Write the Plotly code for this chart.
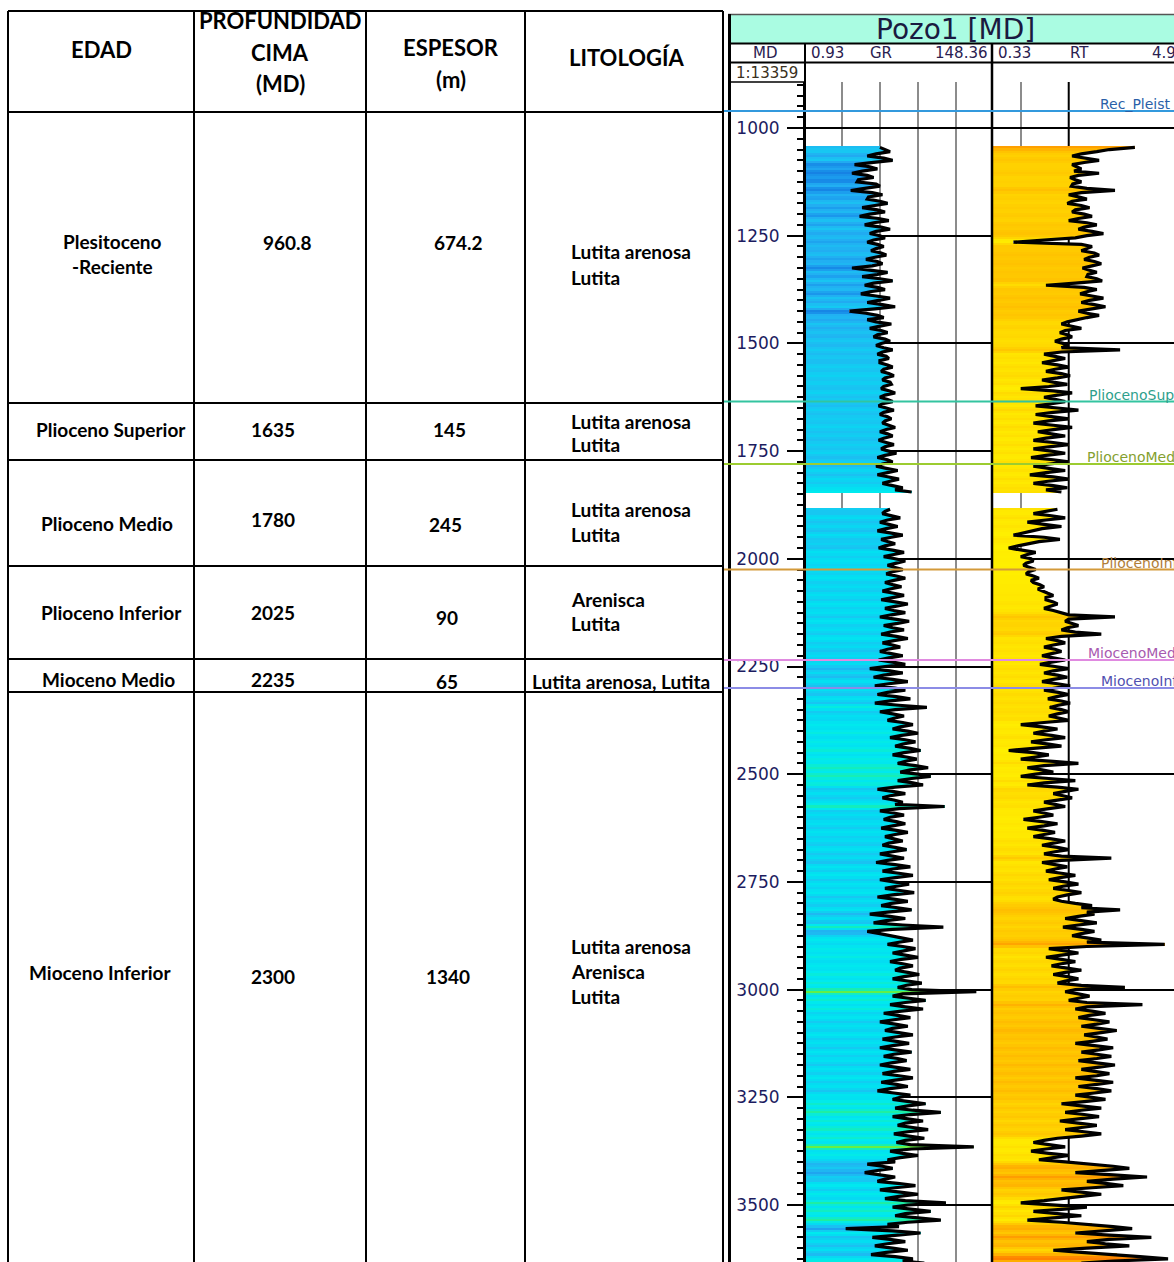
import numpy as np
import plotly.graph_objects as go

W, H = 1174, 1262

# ---------------- formation table ----------------
HEADERS = [["EDAD"], ["PROFUNDIDAD", "CIMA", "(MD)"], ["ESPESOR", "(m)"], ["LITOLOGÍA"]]
EDAD = [["Plesitoceno", "-Reciente"], ["Plioceno Superior"], ["Plioceno Medio"],
        ["Plioceno Inferior"], ["Mioceno Medio"], ["Mioceno Inferior"]]
CIMA_MD = [960.8, 1635, 1780, 2025, 2235, 2300]
ESPESOR_M = [674.2, 145, 245, 90, 65, 1340]
LITOLOGIA = [["Lutita arenosa", "Lutita"], ["Lutita arenosa", "Lutita"],
             ["Lutita arenosa", "Lutita"], ["Arenisca", "Lutita"],
             ["Lutita arenosa, Lutita"], ["Lutita arenosa", "Arenisca", "Lutita"]]
TOP_TAGS = ["Rec_Pleist", "PliocenoSup", "PliocenoMed", "PliocenoInf", "MiocenoMed", "MiocenoInf"]
TOP_COLORS = ["#3399dd", "#33c4a0", "#9ccc30", "#d49a3a", "#e08ae0", "#8c8ce6"]
TAG_COLORS = ["#2a5fa8", "#2f9f8c", "#84a030", "#b07e3a", "#a85ab0", "#5050b0"]

# ---------------- well log ----------------
WELL = "Pozo1 [MD]"
SCALE_LABEL = "1:13359"
GR_MIN, GR_MAX = 0.93, 148.36
RT_MIN, RT_MAX = 0.33, 4.92
STEP = 5             # sample interval (m)
RUN_A_TOP = 1045     # first sample of upper run
RUN_B_TOP = 1885     # first sample of lower run

GR_A = [
    60, 64, 68, 57, 50, 63, 70, 55, 40, 52,      # 1045
    58, 46, 38, 50, 55, 43, 42, 57, 60, 48,      # 1095
    37, 54, 62, 51, 50, 60, 66, 56, 46, 58,      # 1145
    64, 52, 44, 59, 67, 55, 48, 61, 68, 57,      # 1195
    52, 60, 64, 55, 50, 58, 63, 57, 53, 61,      # 1245
    65, 56, 49, 58, 62, 54, 38, 52, 66, 58,      # 1295
    46, 60, 70, 55, 48, 58, 64, 52, 45, 57,      # 1345
    68, 59, 50, 62, 72, 56, 36, 49, 58, 63,      # 1395
    50, 57, 69, 60, 52, 61, 66, 58, 55, 64,      # 1445
    68, 61, 57, 63, 70, 62, 58, 65, 67, 60,      # 1495
    60, 66, 70, 63, 61, 67, 71, 64, 62, 68,      # 1545
    69, 63, 61, 67, 72, 64, 60, 66, 70, 62,      # 1595
    59, 65, 71, 63, 60, 66, 69, 64, 62, 67,      # 1645
    72, 65, 60, 66, 70, 63, 59, 65, 71, 64,      # 1695
    61, 67, 73, 64, 58, 66, 70, 62, 57, 65,      # 1745
    74, 66, 58, 67, 75, 68, 62, 70, 78, 72,      # 1795
    85,                                          # 1845
]
GR_B = [
    68, 64, 62, 70, 76, 66, 60, 67, 74, 65,      # 1885
    58, 68, 78, 69, 61, 66, 72, 64, 59, 70,      # 1935
    79, 71, 63, 72, 80, 73, 66, 72, 78, 70,      # 1985
    65, 73, 80, 71, 64, 70, 77, 68, 62, 71,      # 2035
    79, 70, 61, 72, 82, 73, 64, 71, 80, 69,      # 2085
    60, 72, 83, 74, 63, 70, 79, 68, 61, 73,      # 2135
    82, 71, 62, 70, 76, 66, 60, 69, 78, 67,      # 2185
    59, 70, 80, 64, 52, 68, 78, 63, 55, 70,      # 2235
    82, 67, 56, 72, 80, 66, 58, 73, 84, 68,      # 2285
    56, 75, 97, 72, 60, 70, 79, 71, 66, 78,      # 2335
    86, 76, 70, 82, 90, 77, 68, 80, 88, 78,      # 2385
    72, 84, 92, 79, 70, 81, 89, 80, 74, 88,      # 2435
    98, 84, 76, 90, 100, 85, 74, 86, 94, 72,     # 2485
    58, 70, 80, 68, 62, 71, 78, 72, 111, 75,     # 2535
    60, 71, 79, 68, 63, 73, 80, 70, 61, 72,      # 2585
    82, 72, 64, 71, 78, 67, 62, 72, 81, 70,      # 2635
    60, 70, 79, 66, 57, 72, 84, 70, 62, 75,      # 2685
    86, 72, 60, 71, 83, 73, 64, 76, 87, 70,      # 2735
    58, 71, 82, 69, 61, 74, 85, 66, 52, 68,      # 2785
    80, 65, 55, 78, 110, 70, 50, 60, 68, 77,     # 2835
    86, 75, 66, 78, 88, 79, 70, 80, 90, 77,      # 2885
    68, 78, 86, 76, 72, 82, 91, 79, 70, 82,      # 2935
    93, 81, 74, 85, 136, 78, 70, 83, 96, 80,     # 2985
    68, 80, 94, 77, 63, 74, 84, 71, 60, 72,      # 3035
    82, 70, 64, 75, 86, 72, 62, 73, 83, 70,      # 3085
    60, 72, 85, 71, 63, 74, 81, 69, 60, 72,      # 3135
    84, 71, 62, 75, 86, 72, 61, 73, 82, 68,      # 3185
    58, 71, 84, 76, 70, 83, 96, 82, 72, 86,      # 3235
    108, 84, 70, 82, 94, 80, 74, 86, 98, 82,     # 3285
    71, 83, 95, 80, 73, 84, 134, 85, 68, 78,     # 3335
    90, 76, 66, 72, 50, 62, 70, 58, 48, 60,      # 3385
    72, 64, 58, 74, 88, 72, 60, 76, 90, 75,      # 3435
    64, 80, 112, 82, 70, 86, 100, 80, 72, 90,    # 3485
    108, 82, 66, 75, 33, 70, 92, 74, 54, 68,     # 3535
    80, 66, 56, 70, 82, 65, 53, 72, 86, 78,      # 3585
    95,                                          # 3635
]
RT_A = [
    2.6, 1.8, 1.5, 1.2, 1.05, 1.3, 1.55, 1.25, 1.05, 1.12,     # 1045
    1.2, 1.08, 1.55, 1.15, 1.02, 1.1, 1.2, 1.06, 1.04, 1.3,    # 1095
    1.95, 1.2, 1.0, 1.15, 1.3, 1.05, 0.98, 1.2, 1.35, 1.1,     # 1145
    1.05, 1.25, 1.4, 1.15, 1.0, 1.3, 1.5, 1.25, 1.15, 1.4,     # 1195
    1.65, 1.3, 1.1, 0.7, 0.45, 1.2, 1.4, 1.3, 1.2, 1.45,       # 1245
    1.55, 1.35, 1.25, 1.45, 1.6, 1.4, 1.22, 1.35, 1.5, 1.32,   # 1295
    1.3, 1.5, 1.62, 1.1, 0.72, 1.25, 1.5, 1.3, 1.18, 1.4,      # 1345
    1.65, 1.35, 1.2, 1.45, 1.7, 1.4, 1.15, 1.3, 1.55, 1.3,     # 1395
    1.1, 0.98, 0.9, 1.05, 1.2, 0.95, 0.88, 0.98, 1.05, 0.9,    # 1445
    0.82, 0.92, 1.0, 0.9, 2.1, 0.9, 0.7, 0.82, 0.95, 0.8,      # 1495
    0.68, 0.85, 1.0, 0.82, 0.72, 0.9, 1.02, 0.85, 0.68, 0.8,   # 1545
    0.98, 0.75, 0.5, 0.8, 1.05, 0.85, 0.7, 0.82, 0.95, 0.78,   # 1595
    0.62, 0.85, 1.15, 0.8, 0.62, 0.78, 1.0, 0.75, 0.6, 0.8,    # 1645
    1.05, 0.8, 0.64, 0.78, 0.95, 0.72, 0.6, 0.8, 1.0, 0.75,    # 1695
    0.6, 0.78, 0.95, 0.72, 0.58, 0.8, 1.0, 0.76, 0.6, 0.75,    # 1745
    0.95, 0.72, 0.57, 0.8, 1.0, 0.74, 0.6, 0.8, 0.98, 0.72,    # 1795
    0.9,                                                       # 1845
]
RT_B = [
    0.85, 0.7, 0.6, 0.78, 0.95, 0.72, 0.55, 0.7, 0.9, 0.68,    # 1885
    0.6, 0.52, 0.45, 0.7, 0.88, 0.65, 0.55, 0.48, 0.42, 0.5,   # 1935
    0.62, 0.55, 0.5, 0.58, 0.6, 0.54, 0.52, 0.57, 0.62, 0.56,  # 1985
    0.54, 0.6, 0.65, 0.58, 0.6, 0.66, 0.7, 0.64, 0.68, 0.74,   # 2035
    0.8, 0.72, 0.72, 0.8, 0.85, 0.76, 0.7, 0.8, 0.88, 1.0,     # 2085
    1.95, 1.0, 0.95, 1.05, 1.15, 0.98, 0.9, 1.1, 1.6, 0.9,     # 2135
    0.72, 0.85, 0.95, 0.8, 0.7, 0.82, 0.9, 0.78, 0.68, 0.8,    # 2185
    0.95, 0.78, 0.66, 0.82, 1.0, 0.8, 0.7, 0.85, 0.98, 0.8,    # 2235
    0.68, 0.85, 1.02, 0.82, 0.7, 0.86, 1.0, 0.84, 0.74, 0.9,   # 2285
    1.02, 0.86, 0.76, 0.9, 1.0, 0.85, 0.75, 0.88, 1.0, 0.7,    # 2335
    0.5, 0.68, 0.85, 0.7, 0.6, 0.78, 0.95, 0.72, 0.58, 0.75,   # 2385
    0.9, 0.6, 0.42, 0.6, 0.75, 0.62, 0.5, 0.8, 1.15, 0.7,      # 2435
    0.55, 0.68, 0.8, 0.62, 0.5, 0.75, 1.1, 0.7, 0.55, 0.85,    # 2485
    1.15, 0.95, 0.8, 0.92, 1.05, 0.85, 0.7, 0.82, 0.95, 0.75,  # 2535
    0.6, 0.7, 0.8, 0.65, 0.52, 0.68, 0.85, 0.7, 0.55, 0.68,    # 2585
    0.82, 0.7, 0.6, 0.78, 0.95, 0.8, 0.68, 0.85, 1.0, 0.82,    # 2635
    0.7, 0.9, 1.85, 0.9, 0.68, 0.82, 0.98, 0.82, 0.72, 0.9,    # 2685
    1.1, 0.88, 0.75, 0.95, 1.15, 0.92, 0.8, 1.0, 1.2, 0.98,    # 2735
    0.85, 0.8, 0.9, 1.1, 1.4, 1.2, 2.1, 1.3, 1.45, 1.15,       # 2785
    0.95, 1.2, 1.5, 1.15, 0.92, 1.2, 1.45, 1.2, 1.05, 1.3,     # 2835
    1.6, 1.3, 4.0, 1.3, 0.75, 0.95, 1.15, 0.9, 0.72, 0.9,      # 2885
    1.1, 0.9, 0.78, 0.98, 1.2, 0.95, 0.8, 0.98, 1.15, 0.95,    # 2935
    0.85, 1.2, 2.25, 1.1, 0.95, 1.15, 1.35, 1.15, 1.0, 1.3,    # 2985
    2.9, 1.3, 1.1, 1.4, 1.7, 1.35, 1.15, 1.45, 1.8, 1.5,       # 3035
    1.2, 1.55, 2.0, 1.6, 1.25, 1.5, 1.75, 1.4, 1.1, 1.45,      # 3085
    1.9, 1.55, 1.2, 1.5, 1.85, 1.5, 1.15, 1.5, 1.95, 1.55,     # 3135
    1.2, 1.45, 1.8, 1.5, 1.1, 1.45, 1.9, 1.5, 1.15, 1.5,       # 3185
    1.85, 1.45, 1.1, 1.4, 1.7, 1.25, 0.9, 1.2, 1.6, 1.2,       # 3235
    0.95, 1.25, 1.55, 1.15, 0.88, 1.15, 1.5, 1.2, 0.95, 1.25,  # 3285
    1.6, 1.2, 0.85, 0.7, 0.6, 0.75, 0.95, 0.72, 0.58, 0.75,    # 3335
    1.0, 0.8, 0.65, 0.95, 1.4, 1.9, 2.4, 1.6, 1.1, 1.9,        # 3385
    3.1, 1.9, 1.3, 1.7, 2.2, 1.4, 0.9, 1.2, 1.6, 1.2,          # 3435
    0.95, 0.7, 0.5, 0.85, 1.3, 0.9, 0.6, 0.85, 1.2, 0.8,       # 3485
    0.55, 0.9, 1.4, 1.9, 2.5, 1.6, 1.1, 1.8, 3.3, 1.8,         # 3535
    1.3, 1.7, 2.4, 1.3, 0.8, 1.2, 2.0, 2.8, 4.2, 1.9,          # 3585
    1.2,                                                       # 3635
]

GR_SCALE = [[0.0, "#1060d8"], [0.1, "#1478e0"], [0.2, "#1a98ec"], [0.26, "#22aef2"],
            [0.34, "#18c6f2"], [0.42, "#04dcf2"], [0.52, "#00eaee"], [0.65, "#18eeb0"],
            [0.75, "#40ee60"], [0.9, "#c8f000"], [1.0, "#f0f000"]]
RT_SCALE = [[0.0, "#fff500"], [0.25, "#ffe800"], [0.4, "#ffd400"], [0.55, "#ffc200"],
            [0.7, "#ffaa00"], [0.85, "#ff8000"], [1.0, "#ff5a00"]]

# ---------------- page geometry (pixels) ----------------
def px(x):
    return x / W

def py(y):
    return 1 - y / H

COL_X = [8, 194, 366, 525, 723]
ROW_Y = [11, 112, 403, 460, 566, 659, 692]
DEPTH_TRACK = (730, 805)
GR_TRACK = (805, 992)
TRACK_W = GR_TRACK[1] - GR_TRACK[0]
PLOT_TOP_PX = 82
PX_PER_M = 1077 / 2500.0
Y1000_PX = 128
depth_top = 1000 - (Y1000_PX - PLOT_TOP_PX) / PX_PER_M
depth_bot = 1000 + (H - Y1000_PX) / PX_PER_M
rt_lo = np.log10(RT_MIN)
rt_hi = rt_lo + (W - GR_TRACK[1]) / TRACK_W * (np.log10(RT_MAX) - rt_lo)


def shade(v):
    """Colour value for the track fill: sample blended with its two neighbours."""
    v = np.asarray(v, float)
    p = np.concatenate([[v[0]], v, [v[-1]]])
    return 0.5 * v + 0.25 * (p[:-2] + p[2:])


fig = go.Figure()

# ---------------- log traces ----------------
runs = [(RUN_A_TOP, GR_A, RT_A), (RUN_B_TOP, GR_B, RT_B)]
for top, gr, rt in runs:
    gr = np.asarray(gr, float)
    rt = np.asarray(rt, float)
    d = top + STEP * np.arange(len(gr))
    fig.add_trace(go.Bar(
        x=gr, y=d, orientation="h", width=STEP * 1.06,
        marker=dict(color=shade(gr), colorscale=GR_SCALE, cmin=30, cmax=130,
                    line=dict(width=0)),
        xaxis="x", yaxis="y", hoverinfo="skip", showlegend=False))
    fig.add_trace(go.Bar(
        x=rt - RT_MIN, y=d, base=RT_MIN, orientation="h", width=STEP * 1.06,
        marker=dict(color=shade(np.log10(rt)), colorscale=RT_SCALE,
                    cmin=np.log10(0.4), cmax=np.log10(4.5), line=dict(width=0)),
        xaxis="x2", yaxis="y2", hoverinfo="skip", showlegend=False))

CURVE = dict(color="black", width=3.2)
for top, gr, rt in runs:
    d = top + STEP * np.arange(len(gr))
    fig.add_trace(go.Scatter(x=gr, y=d, mode="lines", line=CURVE,
                             xaxis="x", yaxis="y", hoverinfo="skip", showlegend=False))
    fig.add_trace(go.Scatter(x=rt, y=d, mode="lines", line=CURVE,
                             xaxis="x2", yaxis="y2", hoverinfo="skip", showlegend=False))

# ---------------- shapes ----------------
shapes = []

def seg(x0, y0, x1, y1, color="black", width=2):
    shapes.append(dict(type="line", xref="paper", yref="paper", layer="above",
                       x0=px(x0), y0=py(y0), x1=px(x1), y1=py(y1),
                       line=dict(color=color, width=width)))

# table grid
for yy in ROW_Y:
    seg(COL_X[0], yy, COL_X[-1], yy)
for xx in COL_X:
    seg(xx, ROW_Y[0], xx, H)

# log frame and header
shapes.append(dict(type="rect", xref="paper", yref="paper", layer="below",
                   x0=px(731), x1=1, y0=py(43), y1=py(15),
                   fillcolor="#aafce2", line=dict(width=0)))
seg(728, 14.5, W, 14.5, color="#555555", width=1.5)
seg(729.5, 14, 729.5, H, width=3)
seg(730, 43.5, W, 43.5)
seg(730, 62.5, W, 62.5)
seg(730, 82, DEPTH_TRACK[1], 82, width=1.5)
seg(GR_TRACK[0], 43, GR_TRACK[0], H)
seg(GR_TRACK[1], 43, GR_TRACK[1], H, width=2.5)

# RT = 1 decade line
shapes.append(dict(type="line", xref="x2", yref="y2", layer="below",
                   x0=1, x1=1, y0=depth_top, y1=depth_bot,
                   line=dict(color="black", width=2)))

# formation tops
for d, c in zip(CIMA_MD, TOP_COLORS):
    shapes.append(dict(type="line", xref="paper", yref="y", layer="above",
                       x0=px(724), x1=1, y0=d, y1=d, line=dict(color=c, width=2)))

# ---------------- annotations ----------------
ann = []

def text(x, y, s, size, color="black", family="Lato", bold=False, xanchor="center"):
    ann.append(dict(x=px(x), y=py(y), xref="paper", yref="paper",
                    text=f"<b>{s}</b>" if bold else s, showarrow=False,
                    xanchor=xanchor, yanchor="middle",
                    font=dict(size=size, color=color, family=family)))

HEADER_X = [101, 280, 451, 627]
HEADER_Y = [[50], [21, 52, 83], [47, 79], [57]]
for lines, x, ys in zip(HEADERS, HEADER_X, HEADER_Y):
    for s, y in zip(lines, ys):
        text(x, y, s, 22, bold=True)

# row text placement: edad x, edad ys, cima xy, espesor xy, lito (x, anchor), lito ys
ROW_LAYOUT = [
    (112, [241, 266], (287, 243), (458, 243), (569, "left"), [252, 277]),
    (111, [430], (273, 430), (449, 430), (569, "left"), [421, 445]),
    (107, [523], (273, 519), (445, 525), (569, "left"), [509, 534]),
    (111, [612], (273, 612), (447, 617), (569, "left"), [599, 623]),
    (108, [679], (273, 679), (447, 681), (621, "center"), [681]),
    (100, [972], (273, 976), (448, 976), (569, "left"), [946, 971, 996]),
]
for i, (ex, eys, cxy, sxy, (lx, la), lys) in enumerate(ROW_LAYOUT):
    for s, y in zip(EDAD[i], eys):
        text(ex, y, s, 19, bold=True)
    text(cxy[0], cxy[1], f"{CIMA_MD[i]:g}", 19, bold=True)
    text(sxy[0], sxy[1], f"{ESPESOR_M[i]:g}", 19, bold=True)
    for s, y in zip(LITOLOGIA[i], lys):
        text(lx, y, s, 19, bold=True, xanchor=la)

# log header text
HDR = "#2a2050"
text(955, 29, WELL, 28, color="#1a1a40", family="DejaVu Sans")
text(765, 53, "MD", 15, color=HDR, family="DejaVu Sans")
text(767, 73, SCALE_LABEL, 15, color="#3a3020", family="DejaVu Sans")
text(809, 53, f"{GR_MIN:g}", 15, color=HDR, family="DejaVu Sans", xanchor="left")
text(881, 53, "GR", 15, color=HDR, family="DejaVu Sans")
text(990, 53, f"{GR_MAX:g}", 15, color=HDR, family="DejaVu Sans", xanchor="right")
text(996, 53, f"{RT_MIN:g}", 15, color=HDR, family="DejaVu Sans", xanchor="left")
text(1079, 53, "RT", 15, color=HDR, family="DejaVu Sans")
text(1150, 53, f"{RT_MAX:g}", 15, color=HDR, family="DejaVu Sans", xanchor="left")

# formation tags
TAG_X = [1098, 1087, 1085, 1099, 1086, 1099]
for d, tag, x, c in zip(CIMA_MD, TOP_TAGS, TAG_X, TAG_COLORS):
    ann.append(dict(x=px(x), y=d, xref="paper", yref="y", text=tag, showarrow=False,
                    xanchor="left", yanchor="middle", yshift=7,
                    font=dict(size=14, color=c, family="DejaVu Sans")))

# ---------------- axes ----------------
y_dom = [0, py(PLOT_TOP_PX)]
fig.update_layout(
    width=W, height=H, margin=dict(l=0, r=0, t=0, b=0),
    paper_bgcolor="white", plot_bgcolor="rgba(0,0,0,0)",
    showlegend=False, barmode="overlay", bargap=0,
    font=dict(family="Lato"),
    xaxis=dict(domain=[px(GR_TRACK[0]), px(GR_TRACK[1])], range=[GR_MIN, GR_MAX],
               anchor="y", tickmode="array", tickvals=[30, 60, 90, 120],
               showticklabels=False, ticks="", showgrid=True, gridcolor="#8c8c8c",
               gridwidth=2, zeroline=False, showline=False, fixedrange=True),
    xaxis2=dict(domain=[px(GR_TRACK[1]), 1], type="log", range=[rt_lo, rt_hi],
                anchor="y2", tickmode="array", tickvals=[0.5], showticklabels=False,
                ticks="", showgrid=True, gridcolor="#8c8c8c", gridwidth=2,
                zeroline=False, showline=False, fixedrange=True),
    yaxis=dict(domain=y_dom, range=[depth_bot, depth_top], anchor="x", side="left",
               tickmode="linear", tick0=1000, dtick=250, ticks="outside", ticklen=16,
               tickwidth=2, tickcolor="black", ticklabelstandoff=4,
               tickfont=dict(family="DejaVu Sans", size=17, color="#1c1c60"),
               showline=True, linecolor="black", linewidth=2,
               showgrid=True, gridcolor="black", gridwidth=1.5, zeroline=False,
               minor=dict(dtick=25, tick0=0, ticklen=6, tickwidth=2, tickcolor="black",
                          ticks="outside", showgrid=False),
               fixedrange=True),
    yaxis2=dict(domain=y_dom, matches="y", anchor="x2", showticklabels=False, ticks="",
                showgrid=True, gridcolor="black", gridwidth=1.5, zeroline=False,
                showline=False, fixedrange=True),
    shapes=shapes, annotations=ann,
)

fig.write_html("out.html")
